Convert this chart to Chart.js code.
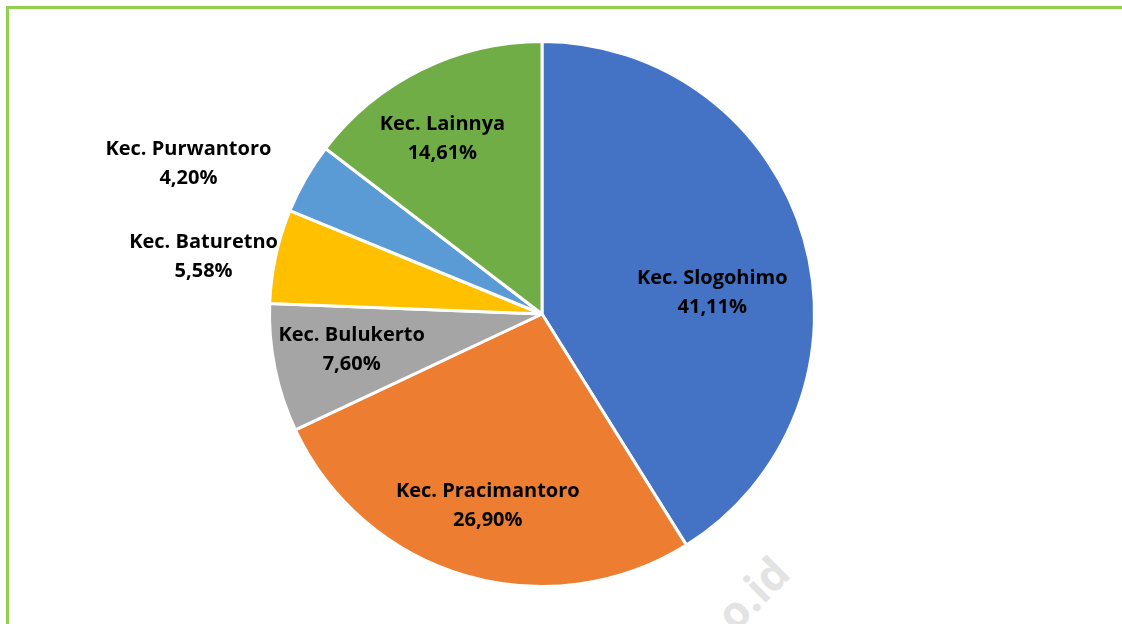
<!DOCTYPE html>
<html>
<head>
<meta charset="utf-8">
<script src="https://cdn.jsdelivr.net/npm/chart.js@4"></script>
<style>
  html, body { margin: 0; padding: 0; background: #fff; overflow: hidden; }
  #wrap { position: relative; width: 1122px; height: 624px; }
  #frame { position: absolute; left: 6px; top: 6px; width: 1200px; height: 700px; border: 3px solid #92D050; box-sizing: border-box; }
  #wm { position: absolute; left: 702px; top: 600px; font: bold 44px 'Open Sans', sans-serif; color: #e3e3e3; transform: rotate(-45deg); transform-origin: left top; }
  canvas { position: absolute; left: 0; top: 0; }
</style>
</head>
<body>
<div id="wrap">
  <div id="frame"></div>
  <div id="wm">o.id</div>
  <canvas id="myChart" width="1122" height="624"></canvas>
</div>
<script>
const names = ['Kec. Slogohimo', 'Kec. Pracimantoro', 'Kec. Bulukerto', 'Kec. Baturetno', 'Kec. Purwantoro', 'Kec. Lainnya'];
const share = [41.11, 26.90, 7.60, 5.58, 4.20, 14.61];
const colors = ['#4472C4', '#ED7D31', '#A5A5A5', '#FFC000', '#5B9BD5', '#70AD47'];

// label placement, relative to each slice (radius factor, angle shift in degrees)
const labelRad = [0.63, 0.73, 0.71, 1.26, 1.41, 0.74];
const labelShift = [8.6, -0.6, 1.1, -2.5, -6.8, -3.3];

const pieLabels = {
  id: 'pieLabels',
  afterDatasetsDraw(chart) {
    const ctx = chart.ctx;
    const meta = chart.getDatasetMeta(0);
    ctx.save();
    ctx.font = 'bold 20px "Open Sans", sans-serif';
    ctx.fillStyle = '#000';
    ctx.textAlign = 'center';
    ctx.textBaseline = 'middle';
    meta.data.forEach((arc, i) => {
      const mid = (arc.startAngle + arc.endAngle) / 2 + labelShift[i] * Math.PI / 180;
      const r = arc.outerRadius * labelRad[i];
      const x = arc.x + Math.cos(mid) * r;
      const y = arc.y + Math.sin(mid) * r;
      const pct = share[i].toFixed(2).replace('.', ',') + '%';
      ctx.fillText(names[i], x, y - 14);
      ctx.fillText(pct, x, y + 15);
    });
    ctx.restore();
  }
};

const ctx = document.getElementById('myChart').getContext('2d');
const chart = new Chart(ctx, {
  type: 'pie',
  data: {
    labels: names,
    datasets: [{
      data: share,
      backgroundColor: colors,
      borderColor: '#fff',
      borderWidth: 3
    }]
  },
  options: {
    responsive: false,
    animation: false,
    layout: { padding: { left: 268, right: 306, top: 40, bottom: 36 } },
    plugins: {
      legend: { display: false },
      tooltip: { enabled: false }
    }
  },
  plugins: [pieLabels]
});
</script>
</body>
</html>
